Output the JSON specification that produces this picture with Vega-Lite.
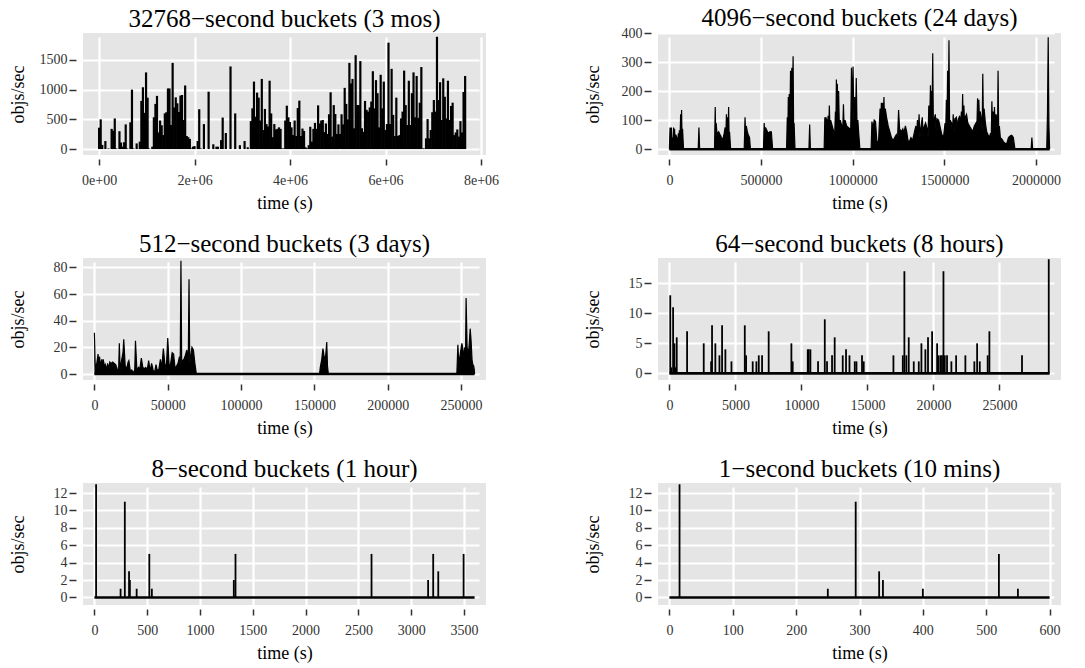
{
  "$schema": "https://vega.github.io/schema/vega-lite/v6.json",
  "background": "white",
  "padding": {"left": 9, "top": 6, "right": 5, "bottom": 5},
  "config": {
    "font": "Liberation Serif",
    "view": {"fill": "#E5E5E5", "stroke": null},
    "axis": {
      "domain": false, "grid": true, "gridColor": "white", "gridWidth": 2.2,
      "tickColor": "#333333", "tickWidth": 1.5, "tickSize": 6, "tickCount": 20,
      "labelFont": "Liberation Serif", "labelFontSize": 14, "labelColor": "#333333", "labelOverlap": false,
      "titleFont": "Liberation Serif", "titleFontSize": 18, "titleFontWeight": "normal", "titleColor": "black"
    },
    "axisX": {"offset": 4, "labelPadding": 8, "titlePadding": 7},
    "axisY": {"offset": 7, "tickSize": 7, "labelPadding": 2},
    "title": {"font": "Liberation Serif", "fontSize": 25, "fontWeight": "normal", "color": "black", "offset": 1, "baseline": "alphabetic", "anchor": "middle", "frame": "group"}
  },
  "datasets": {
    "p1": [{"t":0,"v":360},{"t":32768,"v":500},{"t":65536,"v":70},{"t":131072,"v":135},{"t":196608,"v":10},{"t":262144,"v":340},{"t":294912,"v":310},{"t":327680,"v":515},{"t":360448,"v":10},{"t":425984,"v":300},{"t":458752,"v":110},{"t":491520,"v":40},{"t":524288,"v":115},{"t":557056,"v":415},{"t":589824,"v":10},{"t":655360,"v":450},{"t":688128,"v":1000},{"t":720896,"v":10},{"t":786432,"v":95},{"t":851968,"v":125},{"t":884736,"v":810},{"t":917504,"v":1040},{"t":950272,"v":610},{"t":983040,"v":1290},{"t":1015808,"v":865},{"t":1048576,"v":10},{"t":1114112,"v":40},{"t":1146880,"v":535},{"t":1179648,"v":760},{"t":1212416,"v":895},{"t":1245184,"v":280},{"t":1277952,"v":480},{"t":1310720,"v":400},{"t":1343488,"v":235},{"t":1376256,"v":600},{"t":1409024,"v":620},{"t":1441792,"v":1020},{"t":1474560,"v":1020},{"t":1507328,"v":405},{"t":1540096,"v":1450},{"t":1572864,"v":700},{"t":1605632,"v":870},{"t":1638400,"v":770},{"t":1671168,"v":625},{"t":1703936,"v":900},{"t":1736704,"v":910},{"t":1769472,"v":490},{"t":1802240,"v":1070},{"t":1835008,"v":220},{"t":1867776,"v":200},{"t":1900544,"v":170},{"t":1933312,"v":10},{"t":1966080,"v":40},{"t":1998848,"v":50},{"t":2064384,"v":135},{"t":2097152,"v":670},{"t":2129920,"v":10},{"t":2195456,"v":420},{"t":2293760,"v":965},{"t":2392064,"v":80},{"t":2457600,"v":40},{"t":2490368,"v":40},{"t":2555904,"v":150},{"t":2588672,"v":530},{"t":2654208,"v":270},{"t":2752512,"v":1390},{"t":2850816,"v":600},{"t":2949120,"v":65},{"t":3047424,"v":135},{"t":3112960,"v":30},{"t":3178496,"v":470},{"t":3211264,"v":685},{"t":3244032,"v":1135},{"t":3276800,"v":545},{"t":3309568,"v":950},{"t":3342336,"v":865},{"t":3375104,"v":480},{"t":3407872,"v":1180},{"t":3440640,"v":320},{"t":3473408,"v":675},{"t":3506176,"v":420},{"t":3538944,"v":380},{"t":3571712,"v":1150},{"t":3604480,"v":600},{"t":3637248,"v":200},{"t":3670016,"v":420},{"t":3702784,"v":330},{"t":3735552,"v":340},{"t":3768320,"v":365},{"t":3801088,"v":340},{"t":3833856,"v":10},{"t":3866624,"v":10},{"t":3899392,"v":480},{"t":3932160,"v":730},{"t":3964928,"v":535},{"t":3997696,"v":455},{"t":4030464,"v":365},{"t":4063232,"v":235},{"t":4096000,"v":480},{"t":4128768,"v":220},{"t":4161536,"v":690},{"t":4194304,"v":815},{"t":4227072,"v":220},{"t":4259840,"v":345},{"t":4292608,"v":305},{"t":4325376,"v":30},{"t":4358144,"v":10},{"t":4390912,"v":65},{"t":4423680,"v":375},{"t":4456448,"v":125},{"t":4489216,"v":340},{"t":4521984,"v":440},{"t":4554752,"v":340},{"t":4587520,"v":735},{"t":4620288,"v":430},{"t":4653056,"v":480},{"t":4685824,"v":490},{"t":4718592,"v":285},{"t":4751360,"v":430},{"t":4784128,"v":255},{"t":4816896,"v":585},{"t":4849664,"v":955},{"t":4882432,"v":210},{"t":4915200,"v":740},{"t":4947968,"v":590},{"t":4980736,"v":255},{"t":5013504,"v":415},{"t":5046272,"v":255},{"t":5079040,"v":585},{"t":5111808,"v":415},{"t":5144576,"v":1030},{"t":5177344,"v":760},{"t":5210112,"v":500},{"t":5242880,"v":1450},{"t":5275648,"v":1105},{"t":5308416,"v":1180},{"t":5341184,"v":350},{"t":5373952,"v":1580},{"t":5406720,"v":740},{"t":5439488,"v":740},{"t":5472256,"v":1480},{"t":5505024,"v":350},{"t":5537792,"v":290},{"t":5570560,"v":810},{"t":5603328,"v":660},{"t":5636096,"v":630},{"t":5668864,"v":700},{"t":5701632,"v":800},{"t":5734400,"v":1310},{"t":5767168,"v":685},{"t":5799936,"v":1160},{"t":5832704,"v":940},{"t":5865472,"v":365},{"t":5898240,"v":1250},{"t":5931008,"v":685},{"t":5963776,"v":1135},{"t":5996544,"v":320},{"t":6029312,"v":420},{"t":6062080,"v":1790},{"t":6094848,"v":420},{"t":6127616,"v":1350},{"t":6160384,"v":575},{"t":6193152,"v":220},{"t":6225920,"v":865},{"t":6258688,"v":220},{"t":6291456,"v":235},{"t":6324224,"v":515},{"t":6356992,"v":630},{"t":6389760,"v":1320},{"t":6422528,"v":740},{"t":6455296,"v":405},{"t":6488064,"v":1150},{"t":6520832,"v":405},{"t":6553600,"v":940},{"t":6586368,"v":1290},{"t":6619136,"v":535},{"t":6651904,"v":1230},{"t":6684672,"v":525},{"t":6717440,"v":780},{"t":6750208,"v":1380},{"t":6782976,"v":10},{"t":6815744,"v":10},{"t":6848512,"v":180},{"t":6881280,"v":505},{"t":6914048,"v":180},{"t":6946816,"v":320},{"t":6979584,"v":620},{"t":7012352,"v":825},{"t":7045120,"v":630},{"t":7077888,"v":1890},{"t":7110656,"v":825},{"t":7143424,"v":1125},{"t":7176192,"v":490},{"t":7208960,"v":1190},{"t":7241728,"v":880},{"t":7274496,"v":515},{"t":7307264,"v":1150},{"t":7340032,"v":490},{"t":7372800,"v":725},{"t":7405568,"v":780},{"t":7438336,"v":235},{"t":7471104,"v":280},{"t":7503872,"v":330},{"t":7536640,"v":210},{"t":7569408,"v":470},{"t":7602176,"v":280},{"t":7634944,"v":960},{"t":7667712,"v":1230}],
    "p2": [{"t":0,"v":0},{"t":3500,"v":75},{"t":7000,"v":30},{"t":10500,"v":75},{"t":14000,"v":20},{"t":17500,"v":40},{"t":20000,"v":15},{"t":22700,"v":75},{"t":25500,"v":30},{"t":28000,"v":70},{"t":31500,"v":25},{"t":35000,"v":50},{"t":40200,"v":40},{"t":45400,"v":25},{"t":49000,"v":55},{"t":52000,"v":20},{"t":54200,"v":65},{"t":58000,"v":30},{"t":61200,"v":120},{"t":63800,"v":40},{"t":66400,"v":135},{"t":69000,"v":30},{"t":71700,"v":70},{"t":77000,"v":0},{"t":157000,"v":0},{"t":161000,"v":75},{"t":165000,"v":0},{"t":246000,"v":0},{"t":250000,"v":145},{"t":252500,"v":40},{"t":255000,"v":90},{"t":258700,"v":60},{"t":264000,"v":55},{"t":269000,"v":60},{"t":276000,"v":50},{"t":281000,"v":45},{"t":286700,"v":30},{"t":293700,"v":40},{"t":299000,"v":55},{"t":304000,"v":75},{"t":307500,"v":30},{"t":311000,"v":120},{"t":313500,"v":50},{"t":316000,"v":110},{"t":319500,"v":40},{"t":323000,"v":145},{"t":325500,"v":40},{"t":328000,"v":60},{"t":334000,"v":0},{"t":408000,"v":0},{"t":412500,"v":110},{"t":416000,"v":40},{"t":419500,"v":80},{"t":425000,"v":60},{"t":430000,"v":50},{"t":437000,"v":40},{"t":442000,"v":0},{"t":513000,"v":0},{"t":517000,"v":90},{"t":520500,"v":40},{"t":524000,"v":75},{"t":531000,"v":65},{"t":538000,"v":55},{"t":547000,"v":60},{"t":556000,"v":60},{"t":563000,"v":0},{"t":639000,"v":0},{"t":643000,"v":110},{"t":646000,"v":40},{"t":648500,"v":180},{"t":651000,"v":80},{"t":653700,"v":190},{"t":657000,"v":90},{"t":660700,"v":270},{"t":664000,"v":120},{"t":667700,"v":280},{"t":671000,"v":150},{"t":674600,"v":320},{"t":677500,"v":60},{"t":680000,"v":90},{"t":685000,"v":0},{"t":761000,"v":0},{"t":765000,"v":85},{"t":769000,"v":0},{"t":844000,"v":0},{"t":847800,"v":110},{"t":850500,"v":60},{"t":853000,"v":110},{"t":858300,"v":100},{"t":861500,"v":50},{"t":865300,"v":115},{"t":868800,"v":60},{"t":872300,"v":150},{"t":875800,"v":70},{"t":879200,"v":100},{"t":888000,"v":80},{"t":896700,"v":60},{"t":901000,"v":40},{"t":905500,"v":130},{"t":908000,"v":60},{"t":910700,"v":240},{"t":913300,"v":100},{"t":916000,"v":225},{"t":919500,"v":90},{"t":923000,"v":200},{"t":927000,"v":70},{"t":931700,"v":100},{"t":940400,"v":80},{"t":944800,"v":50},{"t":949200,"v":155},{"t":953500,"v":60},{"t":957900,"v":100},{"t":966600,"v":80},{"t":975400,"v":75},{"t":984100,"v":70},{"t":988500,"v":40},{"t":993000,"v":280},{"t":997300,"v":100},{"t":1001600,"v":285},{"t":1006000,"v":90},{"t":1010300,"v":180},{"t":1014700,"v":80},{"t":1019100,"v":245},{"t":1023500,"v":70},{"t":1027800,"v":100},{"t":1032000,"v":60},{"t":1039000,"v":0},{"t":1100000,"v":0},{"t":1104600,"v":95},{"t":1110000,"v":70},{"t":1117000,"v":100},{"t":1124100,"v":95},{"t":1131200,"v":30},{"t":1140100,"v":20},{"t":1149000,"v":140},{"t":1152500,"v":70},{"t":1156000,"v":160},{"t":1159500,"v":80},{"t":1163100,"v":160},{"t":1166600,"v":90},{"t":1170200,"v":180},{"t":1173700,"v":70},{"t":1177300,"v":140},{"t":1184400,"v":110},{"t":1193300,"v":80},{"t":1202100,"v":60},{"t":1211000,"v":40},{"t":1219900,"v":30},{"t":1228700,"v":40},{"t":1237600,"v":50},{"t":1244000,"v":30},{"t":1250000,"v":135},{"t":1255300,"v":70},{"t":1264200,"v":60},{"t":1273100,"v":70},{"t":1278400,"v":55},{"t":1287200,"v":80},{"t":1294300,"v":60},{"t":1301400,"v":30},{"t":1308500,"v":25},{"t":1317400,"v":40},{"t":1326200,"v":30},{"t":1335100,"v":55},{"t":1344000,"v":80},{"t":1348400,"v":40},{"t":1352800,"v":100},{"t":1357200,"v":50},{"t":1361700,"v":120},{"t":1366100,"v":40},{"t":1370600,"v":70},{"t":1379400,"v":110},{"t":1383800,"v":50},{"t":1388300,"v":75},{"t":1397200,"v":90},{"t":1406000,"v":70},{"t":1410500,"v":40},{"t":1414900,"v":150},{"t":1419300,"v":80},{"t":1423800,"v":220},{"t":1426500,"v":120},{"t":1429100,"v":200},{"t":1432600,"v":110},{"t":1436200,"v":330},{"t":1439800,"v":60},{"t":1443300,"v":100},{"t":1450400,"v":120},{"t":1454800,"v":60},{"t":1459200,"v":105},{"t":1468100,"v":100},{"t":1477000,"v":75},{"t":1485800,"v":50},{"t":1494700,"v":40},{"t":1503500,"v":90},{"t":1507000,"v":60},{"t":1510600,"v":170},{"t":1514100,"v":80},{"t":1517700,"v":270},{"t":1521200,"v":100},{"t":1524800,"v":375},{"t":1528300,"v":70},{"t":1531900,"v":100},{"t":1539000,"v":90},{"t":1543400,"v":50},{"t":1547900,"v":120},{"t":1552300,"v":60},{"t":1556700,"v":105},{"t":1565600,"v":110},{"t":1570000,"v":60},{"t":1574500,"v":100},{"t":1583300,"v":115},{"t":1587800,"v":60},{"t":1592200,"v":130},{"t":1595800,"v":70},{"t":1599300,"v":190},{"t":1602900,"v":80},{"t":1606400,"v":150},{"t":1610000,"v":70},{"t":1613500,"v":110},{"t":1620600,"v":120},{"t":1627700,"v":90},{"t":1636500,"v":80},{"t":1645400,"v":70},{"t":1654300,"v":60},{"t":1663100,"v":80},{"t":1672000,"v":90},{"t":1676400,"v":60},{"t":1680800,"v":175},{"t":1684300,"v":90},{"t":1687900,"v":170},{"t":1691500,"v":80},{"t":1695000,"v":130},{"t":1702100,"v":100},{"t":1705700,"v":60},{"t":1709200,"v":260},{"t":1712800,"v":80},{"t":1716300,"v":140},{"t":1723400,"v":90},{"t":1730500,"v":60},{"t":1737600,"v":50},{"t":1744700,"v":40},{"t":1751800,"v":55},{"t":1755400,"v":40},{"t":1758900,"v":165},{"t":1762500,"v":70},{"t":1766000,"v":130},{"t":1769500,"v":60},{"t":1773000,"v":145},{"t":1776600,"v":70},{"t":1780100,"v":120},{"t":1787200,"v":110},{"t":1789800,"v":60},{"t":1792500,"v":270},{"t":1796000,"v":60},{"t":1799600,"v":80},{"t":1805000,"v":40},{"t":1813800,"v":35},{"t":1822700,"v":25},{"t":1831600,"v":20},{"t":1840400,"v":20},{"t":1849300,"v":40},{"t":1858100,"v":45},{"t":1867000,"v":48},{"t":1875900,"v":40},{"t":1884700,"v":0},{"t":1973000,"v":0},{"t":1977000,"v":40},{"t":1981000,"v":0},{"t":2058000,"v":0},{"t":2062000,"v":120},{"t":2066000,"v":385},{"t":2070000,"v":80},{"t":2073600,"v":0}],
    "p3": [{"t":0,"v":31},{"t":500,"v":8},{"t":1000,"v":3},{"t":1500,"v":7},{"t":2500,"v":15},{"t":3000,"v":4},{"t":3500,"v":13},{"t":4000,"v":6},{"t":5000,"v":11},{"t":5500,"v":3},{"t":6000,"v":11},{"t":7000,"v":5},{"t":7500,"v":7},{"t":8500,"v":3},{"t":9000,"v":8},{"t":10000,"v":4},{"t":10500,"v":9},{"t":11500,"v":8},{"t":12500,"v":9},{"t":13500,"v":8},{"t":14500,"v":7},{"t":15500,"v":4},{"t":16500,"v":2},{"t":17000,"v":23},{"t":17500,"v":3},{"t":18500,"v":10},{"t":19500,"v":16},{"t":20000,"v":26},{"t":21000,"v":6},{"t":22000,"v":4},{"t":23000,"v":9},{"t":23500,"v":10},{"t":24500,"v":2},{"t":25500,"v":3},{"t":26500,"v":1},{"t":27500,"v":3},{"t":28000,"v":25},{"t":29000,"v":2},{"t":30000,"v":5},{"t":31000,"v":4},{"t":32000,"v":12},{"t":33000,"v":5},{"t":34000,"v":4},{"t":35000,"v":5},{"t":36000,"v":3},{"t":37000,"v":10},{"t":38000,"v":2},{"t":39000,"v":8},{"t":40000,"v":3},{"t":41000,"v":1},{"t":42000,"v":7},{"t":43000,"v":2},{"t":44000,"v":4},{"t":45000,"v":11},{"t":46000,"v":5},{"t":47000,"v":19},{"t":48000,"v":8},{"t":49000,"v":4},{"t":50000,"v":27},{"t":51000,"v":5},{"t":52000,"v":8},{"t":53000,"v":16},{"t":54000,"v":15},{"t":55000,"v":4},{"t":56000,"v":6},{"t":57000,"v":8},{"t":58000,"v":13},{"t":58500,"v":6},{"t":59000,"v":85},{"t":59500,"v":7},{"t":60000,"v":10},{"t":61000,"v":11},{"t":62000,"v":14},{"t":63000,"v":18},{"t":64000,"v":10},{"t":64500,"v":71},{"t":65000,"v":8},{"t":65500,"v":12},{"t":66500,"v":20},{"t":67500,"v":18},{"t":68500,"v":8},{"t":69500,"v":0},{"t":153500,"v":0},{"t":154000,"v":5},{"t":155000,"v":11},{"t":155800,"v":19},{"t":156500,"v":14},{"t":157200,"v":10},{"t":157700,"v":14},{"t":158400,"v":24},{"t":158900,"v":6},{"t":159500,"v":0},{"t":247100,"v":0},{"t":247800,"v":22},{"t":248400,"v":8},{"t":249300,"v":14},{"t":250500,"v":23},{"t":251200,"v":19},{"t":251800,"v":12},{"t":252500,"v":20},{"t":253000,"v":10},{"t":253400,"v":57},{"t":254100,"v":20},{"t":255000,"v":15},{"t":255700,"v":25},{"t":256200,"v":34},{"t":256800,"v":25},{"t":257500,"v":10},{"t":258000,"v":7},{"t":258600,"v":6},{"t":259000,"v":3},{"t":259200,"v":0}],
    "p4": [{"t":0,"v":0},{"t":64,"v":13},{"t":150,"v":1},{"t":280,"v":11},{"t":380,"v":5},{"t":450,"v":1},{"t":555,"v":6},{"t":1340,"v":7},{"t":2600,"v":5},{"t":3160,"v":2},{"t":3230,"v":8},{"t":3480,"v":5},{"t":3790,"v":3},{"t":3990,"v":8},{"t":4240,"v":4},{"t":4700,"v":2},{"t":5710,"v":8},{"t":5810,"v":3},{"t":6310,"v":2},{"t":6590,"v":2},{"t":6770,"v":3},{"t":7020,"v":3},{"t":7520,"v":7},{"t":9240,"v":5},{"t":9340,"v":2},{"t":10480,"v":4},{"t":10550,"v":4},{"t":10680,"v":4},{"t":11260,"v":2},{"t":11770,"v":9},{"t":11940,"v":2},{"t":12320,"v":3},{"t":12520,"v":6},{"t":13130,"v":3},{"t":13380,"v":4},{"t":13640,"v":3},{"t":14040,"v":2},{"t":14170,"v":2},{"t":14590,"v":3},{"t":14720,"v":2},{"t":16970,"v":3},{"t":17680,"v":3},{"t":17800,"v":17},{"t":17950,"v":3},{"t":18130,"v":6},{"t":18510,"v":2},{"t":18890,"v":2},{"t":19090,"v":5},{"t":19390,"v":4},{"t":19590,"v":6},{"t":19900,"v":7},{"t":20280,"v":5},{"t":20400,"v":3},{"t":20550,"v":3},{"t":20650,"v":3},{"t":20760,"v":17},{"t":20860,"v":3},{"t":21030,"v":3},{"t":21360,"v":2},{"t":21720,"v":3},{"t":22420,"v":3},{"t":23100,"v":2},{"t":23310,"v":5},{"t":23510,"v":2},{"t":24110,"v":3},{"t":24240,"v":7},{"t":26710,"v":3},{"t":28736,"v":19},{"t":28800,"v":0}],
    "p5": [{"t":0,"v":0},{"t":16,"v":13},{"t":248,"v":1},{"t":288,"v":11},{"t":328,"v":3},{"t":336,"v":2},{"t":400,"v":1},{"t":520,"v":5},{"t":544,"v":1},{"t":1320,"v":2},{"t":1336,"v":5},{"t":2624,"v":5},{"t":3160,"v":2},{"t":3208,"v":5},{"t":3256,"v":3},{"t":3496,"v":5},{"t":3600,"v":0}],
    "p6": [{"t":0,"v":0},{"t":16,"v":13},{"t":250,"v":1},{"t":294,"v":11},{"t":331,"v":3},{"t":337,"v":2},{"t":400,"v":1},{"t":520,"v":5},{"t":550,"v":1},{"t":600,"v":0}]
  },
  "columns": 2,
  "spacing": {"row": 103, "column": 172},
  "bounds": "flush",
  "concat": [
    {
      "width": 403, "height": 122,
      "title": "32768−second buckets (3 mos)",
      "data": {"name": "p1"},
      "mark": {"type": "bar", "width": 2.2, "color": "black"},
      "encoding": {
        "x": {"field": "t", "type": "quantitative", "title": "time (s)",
              "scale": {"domain": [-233000, 8000000], "nice": false, "zero": false},
              "axis": {"values": [0, 2000000, 4000000, 6000000, 8000000], "tickCount": 20, "labelOverlap": false, "labelExpr": "format(datum.value/1000000,'d') + (datum.value == 0 ? 'e+00' : 'e+06')"}},
        "y": {"field": "v", "type": "quantitative", "title": "objs/sec",
              "scale": {"domain": [-100, 1953], "nice": false},
              "axis": {"values": [0, 500, 1000, 1500], "tickCount": 20, "format": "d", "labelOverlap": false, "titlePadding": 12}}
      }
    },
    {
      "width": 403, "height": 122,
      "title": {"text": "4096−second buckets (24 days)", "offset": -5},
      "data": {"name": "p2"},
      "layer": [
        {
          "mark": {"type": "rule", "color": "black", "strokeWidth": 2.6},
          "encoding": {
            "x": {"aggregate": "min", "field": "t", "type": "quantitative", "title": "time (s)"},
            "x2": {"aggregate": "max", "field": "t"},
            "y": {"datum": 0, "type": "quantitative", "title": "objs/sec"}
          }
        },
        {
          "mark": {"type": "area", "color": "black", "opacity": 1, "fillOpacity": 1, "line": {"color": "black", "strokeWidth": 1.2}},
          "encoding": {
            "x": {"field": "t", "type": "quantitative", "title": "time (s)",
                  "scale": {"domain": [-62208, 2135808], "nice": false, "zero": false},
                  "axis": {"values": [0, 500000, 1000000, 1500000, 2000000], "tickCount": 20, "format": "d", "labelOverlap": false}},
            "y": {"field": "v", "type": "quantitative", "title": "objs/sec",
                  "scale": {"domain": [-20, 400], "nice": false},
                  "axis": {"values": [0, 100, 200, 300, 400], "tickCount": 20, "format": "d", "labelOverlap": false, "titlePadding": 19}}
          }
        }
      ]
    },
    {
      "width": 403, "height": 122,
      "title": "512−second buckets (3 days)",
      "data": {"name": "p3"},
      "layer": [
        {
          "mark": {"type": "rule", "color": "black", "strokeWidth": 2.6},
          "encoding": {
            "x": {"aggregate": "min", "field": "t", "type": "quantitative", "title": "time (s)"},
            "x2": {"aggregate": "max", "field": "t"},
            "y": {"datum": 0, "type": "quantitative", "title": "objs/sec"}
          }
        },
        {
          "mark": {"type": "area", "color": "black", "opacity": 1, "fillOpacity": 1, "line": {"color": "black", "strokeWidth": 1.2}},
          "encoding": {
            "x": {"field": "t", "type": "quantitative", "title": "time (s)",
                  "scale": {"domain": [-7776, 266976], "nice": false, "zero": false},
                  "axis": {"values": [0, 50000, 100000, 150000, 200000, 250000], "tickCount": 20, "format": "d", "labelOverlap": false}},
            "y": {"field": "v", "type": "quantitative", "title": "objs/sec",
                  "scale": {"domain": [-4.5, 87], "nice": false},
                  "axis": {"values": [0, 20, 40, 60, 80], "tickCount": 20, "format": "d", "labelOverlap": false, "titlePadding": 26}}
          }
        }
      ]
    },
    {
      "width": 403, "height": 122,
      "title": "64−second buckets (8 hours)",
      "data": {"name": "p4"},
      "layer": [
        {
          "mark": {"type": "rule", "color": "black", "strokeWidth": 2.6},
          "encoding": {
            "x": {"aggregate": "min", "field": "t", "type": "quantitative", "title": "time (s)"},
            "x2": {"aggregate": "max", "field": "t"},
            "y": {"datum": 0, "type": "quantitative", "title": "objs/sec"}
          }
        },
        {
          "mark": {"type": "rule", "color": "black", "strokeWidth": 1.8},
          "encoding": {
            "x": {"field": "t", "type": "quantitative", "title": "time (s)",
                  "scale": {"domain": [-864, 29664], "nice": false, "zero": false},
                  "axis": {"values": [0, 5000, 10000, 15000, 20000, 25000], "tickCount": 20, "format": "d", "labelOverlap": false}},
            "y": {"field": "v", "type": "quantitative", "title": "objs/sec",
                  "scale": {"domain": [-1.1, 19.2], "nice": false},
                  "axis": {"values": [0, 5, 10, 15], "tickCount": 20, "format": "d", "labelOverlap": false, "titlePadding": 26}},
            "y2": {"datum": 0}
          }
        }
      ]
    },
    {
      "width": 403, "height": 122,
      "title": "8−second buckets (1 hour)",
      "data": {"name": "p5"},
      "layer": [
        {
          "mark": {"type": "rule", "color": "black", "strokeWidth": 2.6},
          "encoding": {
            "x": {"aggregate": "min", "field": "t", "type": "quantitative", "title": "time (s)"},
            "x2": {"aggregate": "max", "field": "t"},
            "y": {"datum": 0, "type": "quantitative", "title": "objs/sec"}
          }
        },
        {
          "mark": {"type": "rule", "color": "black", "strokeWidth": 1.8},
          "encoding": {
            "x": {"field": "t", "type": "quantitative", "title": "time (s)",
                  "scale": {"domain": [-108, 3708], "nice": false, "zero": false},
                  "axis": {"values": [0, 500, 1000, 1500, 2000, 2500, 3000, 3500], "tickCount": 20, "format": "d", "labelOverlap": false}},
            "y": {"field": "v", "type": "quantitative", "title": "objs/sec",
                  "scale": {"domain": [-0.87, 13.15], "nice": false},
                  "axis": {"values": [0, 2, 4, 6, 8, 10, 12], "tickCount": 20, "format": "d", "labelOverlap": false, "titlePadding": 26}},
            "y2": {"datum": 0}
          }
        }
      ]
    },
    {
      "width": 403, "height": 122,
      "title": "1−second buckets (10 mins)",
      "data": {"name": "p6"},
      "layer": [
        {
          "mark": {"type": "rule", "color": "black", "strokeWidth": 2.6},
          "encoding": {
            "x": {"aggregate": "min", "field": "t", "type": "quantitative", "title": "time (s)"},
            "x2": {"aggregate": "max", "field": "t"},
            "y": {"datum": 0, "type": "quantitative", "title": "objs/sec"}
          }
        },
        {
          "mark": {"type": "rule", "color": "black", "strokeWidth": 1.8},
          "encoding": {
            "x": {"field": "t", "type": "quantitative", "title": "time (s)",
                  "scale": {"domain": [-18, 618], "nice": false, "zero": false},
                  "axis": {"values": [0, 100, 200, 300, 400, 500, 600], "tickCount": 20, "format": "d", "labelOverlap": false}},
            "y": {"field": "v", "type": "quantitative", "title": "objs/sec",
                  "scale": {"domain": [-0.87, 13.15], "nice": false},
                  "axis": {"values": [0, 2, 4, 6, 8, 10, 12], "tickCount": 20, "format": "d", "labelOverlap": false, "titlePadding": 26}},
            "y2": {"datum": 0}
          }
        }
      ]
    }
  ]
}
